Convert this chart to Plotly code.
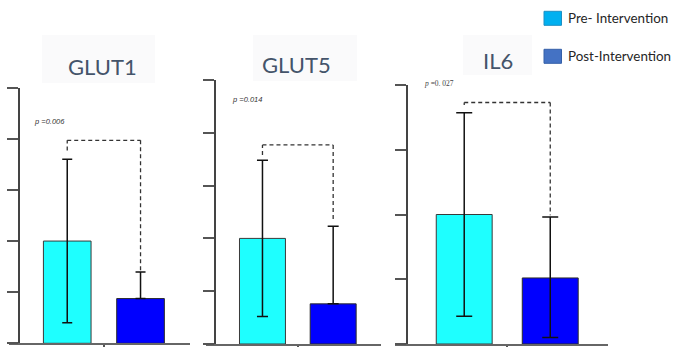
import plotly.graph_objects as go

# Gene expression, pre vs post intervention (axis units, no tick labels)
genes = ["GLUT1", "GLUT5", "IL6"]
pre_mean = [2.0, 2.0, 2.0]
pre_err = [1.6, 1.48, 1.57]
post_mean = [0.875, 0.76, 1.02]
post_err_up = [0.52, 1.47, 0.94]
post_err_down = [0.0, 0.0, 0.92]
p_labels = ["p =0.006", "p =0.014", "p =0. 027"]
y_max = [5, 5, 4]
# significance bracket levels: top, left foot, right foot
bracket_top = [3.97, 3.77, 3.73]
bracket_left = [3.77, 3.58, 3.69]
bracket_right = [1.39, 2.35, 1.99]
legend_labels = ["Pre- Intervention", "Post-Intervention"]

W, H = 673, 347


def px(x):
    return x / W


def py(y):
    return (H - y) / H


# panel geometry in pixels: x-domain, y-axis position, y-domain (bottom, top)
panels = [
    dict(xd=(8.6, 190.0), yax=19.0, yd=(343.3, 87.7), cap=5, title=(102.5, 66.7),
         box=(42, 35, 155, 83), plab=(31.7, 121.0)),
    dict(xd=(205.9, 380.9), yax=215.0, yd=(344.0, 80.0), cap=5.5, title=(296.7, 65.0),
         box=(253, 35, 357, 81), plab=(230.0, 100.0)),
    dict(xd=(395.4, 608.3), yax=406.7, yd=(344.0, 85.0), cap=8, title=(498.0, 60.0),
         box=(463, 35, 532, 75), plab=(421.7, 83.3)),
]

PRE_COLOR = "#1EFFFF"
POST_COLOR = "#0000FF"
X_RANGE = [-0.8, 1.675]
BAR_W = 0.65

fig = go.Figure()
shapes = []
annotations = []
layout_axes = {}

for i, g in enumerate(genes):
    p = panels[i]
    n = "" if i == 0 else str(i + 1)
    xref, yref = "x" + n, "y" + n

    fig.add_trace(go.Bar(
        x=[0], y=[pre_mean[i]], width=BAR_W, xaxis=xref, yaxis=yref,
        marker=dict(color=PRE_COLOR, line=dict(color="#3a3a3a", width=1)),
        error_y=dict(type="data", array=[pre_err[i]], symmetric=True,
                     color="#111111", thickness=1.5, width=p["cap"]),
        showlegend=False, hoverinfo="skip"))
    fig.add_trace(go.Bar(
        x=[1], y=[post_mean[i]], width=BAR_W, xaxis=xref, yaxis=yref,
        marker=dict(color=POST_COLOR, line=dict(color="#2a2a2a", width=1)),
        error_y=dict(type="data", array=[post_err_up[i]], arrayminus=[post_err_down[i]],
                     symmetric=False, color="#111111", thickness=1.5, width=p["cap"]),
        showlegend=False, hoverinfo="skip"))

    layout_axes["xaxis" + n] = dict(
        domain=[px(p["xd"][0]), px(p["xd"][1])], range=X_RANGE, anchor=yref,
        showline=True, linecolor="#666666", linewidth=2, showgrid=False, zeroline=False,
        tickvals=[0.5], ticks="outside", ticklen=4, tickwidth=1.5, tickcolor="#555555",
        showticklabels=False, fixedrange=True)
    layout_axes["yaxis" + n] = dict(
        domain=[py(p["yd"][0]), py(p["yd"][1])], range=[0, y_max[i]], anchor="free",
        position=px(p["yax"]), showline=True, linecolor="#444444", linewidth=2,
        showgrid=False, zeroline=False, dtick=1, ticks="outside", ticklen=11,
        tickwidth=1.5, tickcolor="#555555", showticklabels=False, fixedrange=True)

    # dashed significance bracket
    dash = dict(color="#333333", width=1.3, dash="4px,3px")
    shapes += [
        dict(type="line", xref=xref, yref=yref, x0=0, x1=0,
             y0=bracket_left[i], y1=bracket_top[i], line=dash, layer="above"),
        dict(type="line", xref=xref, yref=yref, x0=0, x1=1,
             y0=bracket_top[i], y1=bracket_top[i], line=dash, layer="above"),
        dict(type="line", xref=xref, yref=yref, x0=1, x1=1,
             y0=bracket_top[i], y1=bracket_right[i], line=dash, layer="above"),
    ]

    # faint panel title backdrop
    bx0, by0, bx1, by1 = p["box"]
    shapes.append(dict(type="rect", xref="paper", yref="paper",
                       x0=px(bx0), x1=px(bx1), y0=py(by1), y1=py(by0),
                       fillcolor="#FAFAFB", line=dict(width=0), layer="below"))
    annotations.append(dict(
        text=g, xref="paper", yref="paper", x=px(p["title"][0]), y=py(p["title"][1]),
        xanchor="center", yanchor="middle", showarrow=False,
        font=dict(family="Lato", size=22, color="#44546A")))

    # p-value label
    pfont = (dict(family="Liberation Serif", size=7.5, color="#444444") if i == 2
             else dict(family="Liberation Sans", size=7.5, color="#333333"))
    ptext = p_labels[i]
    ptext = "<i>" + ptext[0] + "</i>" + ptext[1:] if i == 2 else "<i>" + ptext + "</i>"
    annotations.append(dict(
        text=ptext, xref="paper", yref="paper", x=px(p["plab"][0]), y=py(p["plab"][1]),
        xanchor="left", yanchor="middle", showarrow=False, font=pfont))

# legend drawn at the top right
legend_fill = ["#00B0F0", "#4472C4"]
legend_edge = ["#1C8FC4", "#3560A8"]
legend_y = [18.3, 56.3]
for lab, fc, ec, ly in zip(legend_labels, legend_fill, legend_edge, legend_y):
    shapes.append(dict(type="rect", xref="paper", yref="paper",
                       x0=px(544), x1=px(561.5), y0=py(ly + 7), y1=py(ly - 7),
                       fillcolor=fc, line=dict(color=ec, width=1)))
    annotations.append(dict(
        text=lab, xref="paper", yref="paper", x=px(566), y=py(ly),
        xanchor="left", yanchor="middle", showarrow=False,
        font=dict(family="Lato", size=13.4, color="#262626")))

fig.update_layout(
    width=W, height=H, margin=dict(l=0, r=0, t=0, b=0),
    paper_bgcolor="white", plot_bgcolor="rgba(0,0,0,0)",
    showlegend=False, barmode="overlay",
    shapes=shapes, annotations=annotations, **layout_axes)

fig.write_html("out.html", config={"displayModeBar": False})
